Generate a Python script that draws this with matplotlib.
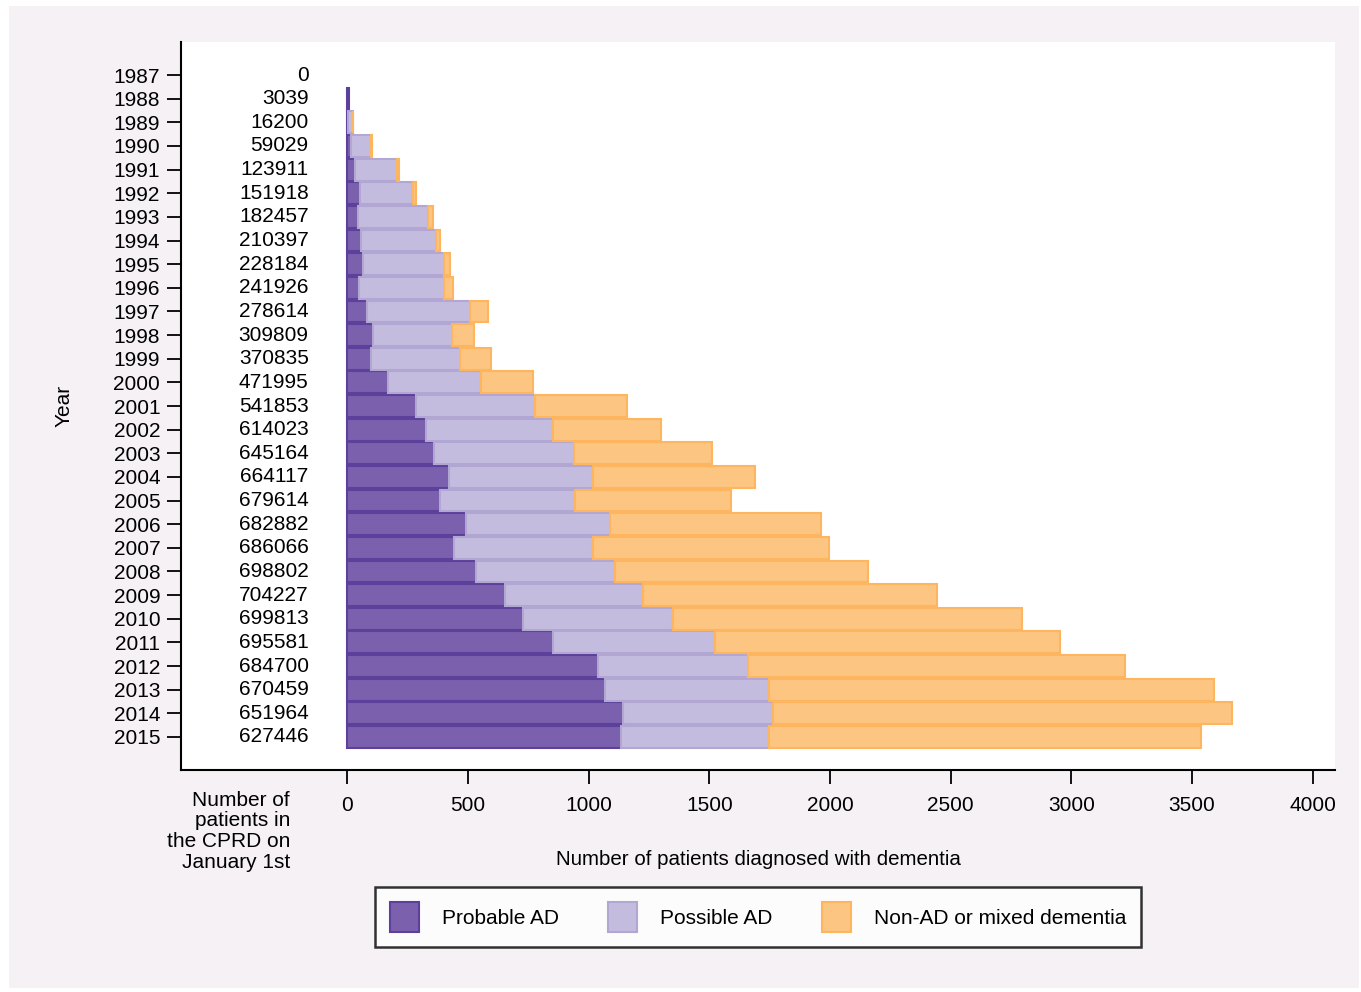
import numpy as np
import matplotlib
matplotlib.use('Agg')
import matplotlib.pyplot as plt
from matplotlib.patches import Rectangle, Patch

plt.rcParams['font.family'] = ['Liberation Sans', 'DejaVu Sans']
plt.rcParams['font.size'] = 15

# Data
years = list(range(1987, 2016))
cprd_patients = [0, 3039, 16200, 59029, 123911, 151918, 182457, 210397, 228184,
                 241926, 278614, 309809, 370835, 471995, 541853, 614023, 645164,
                 664117, 679614, 682882, 686066, 698802, 704227, 699813, 695581,
                 684700, 670459, 651964, 627446]
probable_ad = [0, 6, 2, 14, 32, 53, 44, 57, 64, 48, 83, 105, 99, 169, 285, 328,
               358, 423, 382, 490, 444, 533, 652, 726, 854, 1039, 1069, 1142, 1132]
possible_ad = [0, 0, 20, 83, 173, 220, 289, 310, 338, 354, 427, 330, 368, 385,
               491, 523, 582, 593, 561, 600, 572, 576, 571, 625, 670, 622, 680,
               622, 614]
non_ad = [0, 0, 1, 7, 10, 12, 23, 16, 23, 36, 72, 90, 128, 217, 383, 447, 571,
          675, 646, 872, 979, 1050, 1220, 1446, 1428, 1559, 1841, 1900, 1789]

labels = ['Probable AD', 'Possible AD', 'Non-AD or mixed dementia']
fills = ['#7b60ad', '#c4bcde', '#fdc582']
edges = ['#5c409b', '#b2a7d3', '#fdb65f']

fig = plt.figure(figsize=(13.61, 9.92), dpi=100, facecolor='white')
# light background panel behind everything
fig.patches.append(Rectangle((9 / 1361, 4 / 992), 1350 / 1361, 982 / 992,
                             transform=fig.transFigure, facecolor='#f5f1f5',
                             edgecolor='none', zorder=-10))

ax = fig.add_axes([181 / 1361, 1 - 770 / 992, (1335 - 181) / 1361, (770 - 42) / 992])
ax.set_facecolor('white')

pos = np.arange(len(years))
left = np.zeros(len(years))
for vals, fc, ec, lab in zip([probable_ad, possible_ad, non_ad], fills, edges, labels):
    vals = np.array(vals, dtype=float)
    mask = vals > 0
    ax.barh(pos[mask], vals[mask], left=left[mask], height=0.92, color=fc,
            edgecolor=ec, linewidth=1.5, label=lab)
    left += vals

# patient counts column
for p, n in zip(pos, cprd_patients):
    ax.text(-160, p, str(n), ha='right', va='center', fontsize=15)

ax.set_xlim(-689, 4092)
ax.set_ylim(len(years) - 1 + 1.4, -1.4)
ax.set_xticks([0, 500, 1000, 1500, 2000, 2500, 3000, 3500, 4000])
ax.set_yticks(pos)
ax.set_yticklabels([str(y) for y in years])
ax.tick_params(axis='both', length=10, width=1.3, pad=5, labelsize=15)
ax.tick_params(axis='x', pad=9)

for s in ['top', 'right']:
    ax.spines[s].set_visible(False)
for s in ['left', 'bottom']:
    ax.spines[s].set_linewidth(1.5)

ax.set_xlabel('Number of patients diagnosed with dementia', fontsize=14.8, labelpad=25)
ax.set_ylabel('Year', fontsize=15, labelpad=29)

fig.text(290 / 1361, 1 - 791 / 992, 'Number of\npatients in\nthe CPRD on\nJanuary 1st',
         ha='right', va='top', fontsize=15, linespacing=1.1)

handles = [Patch(facecolor=fc, edgecolor=ec, linewidth=1.5) for fc, ec in zip(fills, edges)]
leg = fig.legend(handles, labels, loc='center', ncol=3,
                 bbox_to_anchor=(758 / 1361, 1 - 917 / 992), fontsize=15,
                 frameon=True, fancybox=False, handlelength=1.4, handleheight=1.85,
                 handletextpad=1.1, columnspacing=2.35, borderpad=0.7)
leg.get_frame().set_edgecolor('black')
leg.get_frame().set_linewidth(1.8)
leg.get_frame().set_facecolor('white')

fig.savefig('out.png', dpi=100, facecolor=fig.get_facecolor())
